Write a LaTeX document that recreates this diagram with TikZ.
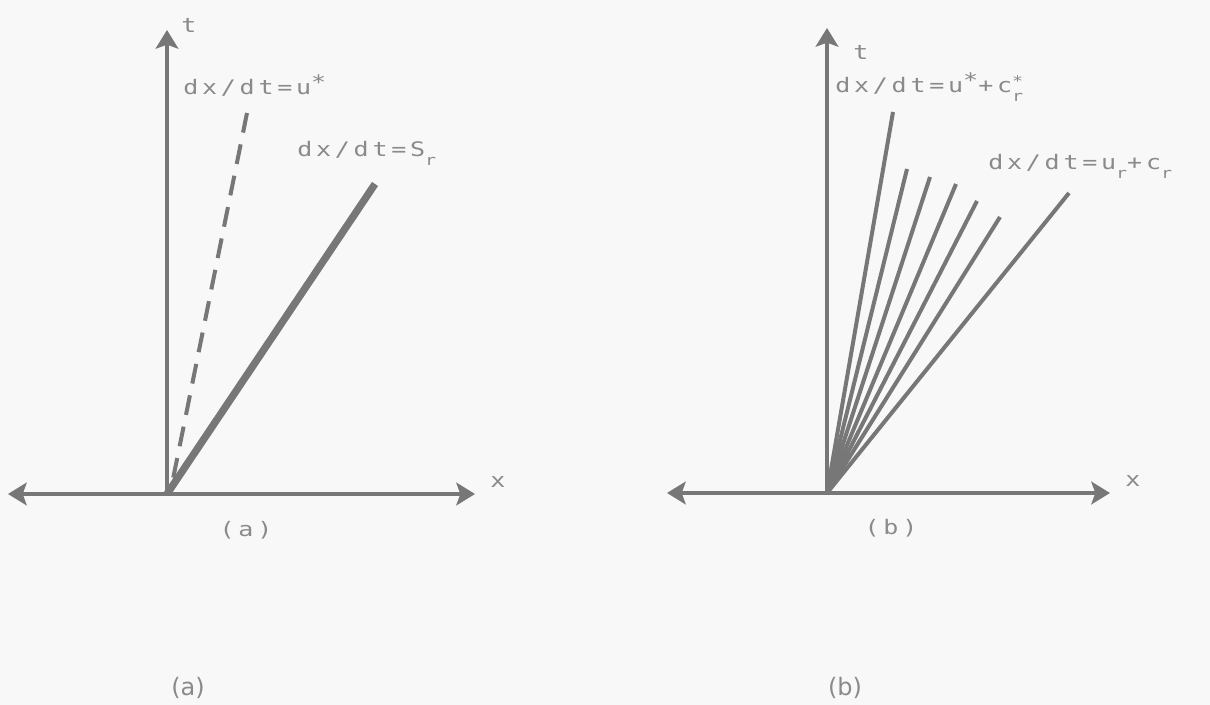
\documentclass[tikz,border=0pt]{standalone}
\usepackage{fontspec}
\usetikzlibrary{arrows.meta}
\newfontfamily\plotfont[LetterSpace=15]{DejaVu Sans Mono}
\newfontfamily\capfont{DejaVu Sans}
\definecolor{ink}{HTML}{777777}
\definecolor{txt}{HTML}{8A8A8A}
\definecolor{bg}{HTML}{F8F8F8}
\newcommand{\subr}{\raisebox{-0.42em}{\fontsize{11}{11}\selectfont r}}
\newcommand{\supst}{\raisebox{0.28em}{*}}
\newcommand{\supsub}{\rlap{\raisebox{0.3em}{\fontsize{11}{11}\selectfont *}}\raisebox{-0.42em}{\fontsize{11}{11}\selectfont r}}
\begin{document}
\begin{tikzpicture}[x=0.75pt,y=-0.75pt,
  >={Stealth[length=14pt,width=17pt,inset=3pt]},
  axis/.style={draw=ink,line width=3pt},
  fanline/.style={draw=ink,line width=3pt},
  shock/.style={draw=ink,line width=5.5pt},
  contact/.style={draw=ink,line width=3pt,dash pattern=on 15pt off 9pt},
  lab/.style={inner sep=0pt,text=txt,xscale=1.25,font={\plotfont\fontsize{15}{15}\selectfont}},
  figcap/.style={inner sep=0pt,text=txt,font={\capfont\fontsize{18}{18}\selectfont}}]
\fill[bg] (0,0) rectangle (1210,705);
\useasboundingbox (0,0) rectangle (1210,705);
% ---------- panel (a)
\coordinate (Oa) at (167,494);
\coordinate (La) at (8,494);
\coordinate (Ra) at (475,494);
\coordinate (Ta) at (167,30);
\coordinate (Da) at (247,113);
\coordinate (Db) at (172,484);
\coordinate (Sa) at (375,184);
\draw[axis,<->] (La) -- (Ra);
\draw[axis,->] (Oa) -- (Ta);
\draw[contact] (Da) -- (Db);
\draw[shock] (Oa) -- (Sa);
\node[lab] (ta) at (189,25) {t};
\node[lab] (xa) at (498,482) {x};
\node[lab,anchor=base west] (ua) at (183,95) {dx/dt=u\supst};
\node[lab,anchor=base west] (sa) at (297,157) {dx/dt=S\subr};
\node[lab] (capa) at (246,530) {(a)};
% ---------- panel (b)
\coordinate (Ob) at (827,493);
\coordinate (Lb) at (667,493);
\coordinate (Rb) at (1110,493);
\coordinate (Tb) at (827,28);
\coordinate (F1) at (893,112);
\coordinate (F2) at (907,169);
\coordinate (F3) at (930,177);
\coordinate (F4) at (956,184);
\coordinate (F5) at (977,201);
\coordinate (F6) at (1000,217);
\coordinate (F7) at (1069,193);
\draw[axis,<->] (Lb) -- (Rb);
\draw[axis,->] (Ob) -- (Tb);
\foreach \f in {F1,F2,F3,F4,F5,F6,F7} \draw[fanline] (Ob) -- (\f);
\node[lab] (tb) at (861,52) {t};
\node[lab] (xb) at (1133,481) {x};
\node[lab,anchor=base west] (hb) at (835,93) {dx/dt=u\supst+c\supsub};
\node[lab,anchor=base west] (tlb) at (988,170) {dx/dt=u\subr+c\subr};
\node[lab] (capb) at (891,528) {(b)};
% ---------- figure captions
\node[figcap] (fa) at (188,688) {(a)};
\node[figcap] (fb) at (845,688) {(b)};
\end{tikzpicture}
\end{document}
